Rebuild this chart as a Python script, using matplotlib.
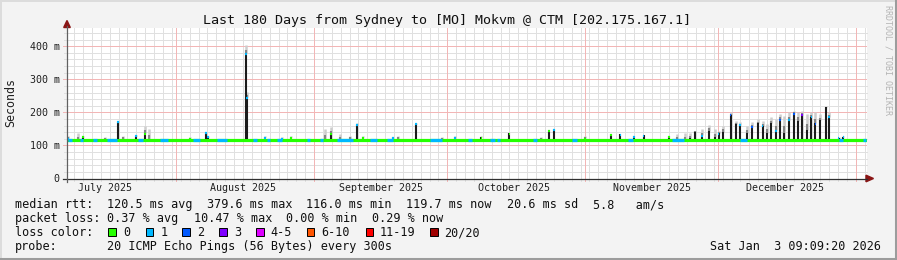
import datetime as dt
import numpy as np
import matplotlib
matplotlib.use("Agg")
import matplotlib.pyplot as plt
import matplotlib.dates as mdates
from matplotlib.lines import Line2D
from matplotlib.patches import Rectangle, Polygon
from matplotlib.transforms import blended_transform_factory

plt.rcParams['font.family'] = ['DejaVu Sans Mono']

W, H = 897, 260
START = dt.datetime(2025, 7, 7, 9, 9, 20)
END = dt.datetime(2026, 1, 3, 9, 9, 20)

TITLE = "Last 180 Days from Sydney to [MO] Mokvm @ CTM [202.175.167.1]"

# median rtt baseline (ms)
median_base = 117.5

# spikes: day offset from START, dense smoke top (ms), light smoke top (ms),
# loss bucket of the median at the top (-1 = not visible)
spike_day = [0.2, 2.5, 3.6, 8.6, 11.5, 12.6, 15.5, 17.6, 18.5, 27.7,
             31.3, 31.8, 40.3, 40.6, 44.6, 48.4, 50.5, 58.1, 59.5, 61.5,
             63.8, 65.3, 66.7, 73.4, 74.6, 78.6, 84.5, 87.4, 93.3, 99.6,
             106.8, 108.6, 109.7, 116.7, 122.5, 124.6, 127.7, 129.8, 135.6, 137.4,
             139.2, 140.3, 141.5, 143.0, 144.6, 146.0, 146.7, 147.7, 149.4, 150.6,
             151.6, 153.1, 154.2, 155.6, 156.6, 157.6, 158.6, 159.7, 160.6, 161.5,
             162.5, 163.6, 164.5, 165.5, 166.6, 167.6, 168.5, 169.5, 170.8, 171.5,
             173.7, 174.8]
spike_dark = [122, 120, 126, 120, 172, 120, 130, 137, 120, 122,
              140, 126, 378, 245, 125, 122, 125, 120, 137, 120,
              120, 162, 125, 124, 120, 165, 120, 125, 124, 137,
              120, 146, 149, 122, 134, 134, 128, 131, 127, 120,
              120, 122, 141, 131, 144, 126, 137, 141, 192, 165,
              162, 137, 156, 167, 159, 137, 167, 146, 179, 137,
              177, 197, 175, 192, 146, 187, 167, 177, 215, 187,
              123, 126]
spike_light = [128, 137, 130, 125, 175, 130, 132, 158, 150, 126,
               142, 128, 403, 262, 127, 125, 127, 150, 155, 135,
               130, 168, 128, 126, 130, 168, 124, 127, 130, 139,
               126, 148, 151, 130, 136, 136, 130, 133, 129, 134,
               137, 138, 145, 150, 162, 150, 145, 160, 202, 175,
               170, 160, 170, 180, 175, 165, 185, 180, 195, 190,
               200, 205, 200, 205, 195, 200, 200, 195, 218, 200,
               125, 127]
spike_loss = [1, -1, 0, -1, 1, -1, 1, 0, -1, 0,
              1, 1, 1, 1, 1, 1, 0, -1, 0, -1,
              -1, 1, 0, 1, -1, 1, -1, 1, 0, 0,
              -1, 0, 1, 0, 0, 1, 1, 1, 0, -1,
              -1, -1, -1, 1, -1, -1, 1, -1, 2, -1,
              1, -1, 2, -1, 1, -1, -1, 1, 2, -1,
              1, 2, -1, 3, -1, 1, 2, -1, -1, 1,
              1, 1]

# stretches of the median line with 1/20 loss (day offsets)
loss1_from = [0.2, 2.9, 5.9, 9.0, 16.0, 21.0, 28.4, 33.8, 41.9, 45.1, 47.3, 54.1, 57.0,
              60.8, 68.3, 72.1, 81.8, 90.3, 95.3, 96.9, 105.0, 113.8, 126.2, 136.3,
              151.6, 173.7, 179.1]
loss1_to = [1.1, 3.6, 6.8, 11.3, 17.1, 22.8, 30.0, 36.0, 42.8, 45.7, 48.4, 54.7, 57.7,
            64.4, 69.8, 73.4, 84.5, 91.2, 96.4, 97.5, 105.9, 114.9, 127.5, 138.8,
            153.2, 174.8, 179.8]

loss_labels = ["0", "1", "2", "3", "4-5", "6-10", "11-19", "20/20"]
loss_colors = ["#26ff00", "#00b8ff", "#0059ff", "#7e00ff", "#dd00ff", "#ff5500", "#ff0000", "#a00000"]

month_labels = ["July 2025", "August 2025", "September 2025", "October 2025",
                "November 2025", "December 2025"]
month_mid = [dt.datetime(2025, m, 16) for m in range(7, 13)]
month_start = [dt.datetime(2025, m, 1) for m in range(8, 13)] + [dt.datetime(2026, 1, 1)]

y_ticks = [0, 100, 200, 300, 400]
y_ticklabels = ["0", "100 m", "200 m", "300 m", "400 m"]

stats_rtt = ["median rtt:", "120.5 ms avg", "379.6 ms max", "116.0 ms min",
             "119.7 ms now", "20.6 ms sd", "5.8   am/s"]
stats_loss = ["packet loss:", "0.37 % avg", "10.47 % max", "0.00 % min", "0.29 % now"]
probe_text = "20 ICMP Echo Pings (56 Bytes) every 300s"
stamp = "Sat Jan  3 09:09:20 2026"


def fx(x):
    return x / W


def fy(y):
    return 1 - y / H


fig = plt.figure(figsize=(W / 100, H / 100), dpi=100, facecolor='#f3f3f3')
ax = fig.add_axes([fx(67), fy(178.5), (866.5 - 67) / W, (178.5 - 28) / H])
ax.set_facecolor('white')

t0 = mdates.date2num(START)
t1 = mdates.date2num(END)
ax.set_xlim(t0, t1)
ax.set_ylim(0, 455)
for s in ax.spines.values():
    s.set_visible(False)

# grid (crisp 1px dotted lines like rrdtool)
GRID = '#e0e0e0'
MGRID = '#f2b6b6'
dash = (0, (2, 1))
for v in np.arange(20, 455, 20):
    if v % 100 == 0:
        continue
    ax.hlines(v, t0 - 0.7, t1, color=GRID, lw=0.72, linestyles=dash, clip_on=False,
              zorder=0, antialiased=False)
for v in y_ticks[1:]:
    ax.hlines(v, t0 - 0.9, t1, color=MGRID, lw=0.72, linestyles=dash, clip_on=False,
              zorder=0.5, antialiased=False)
minor_x = np.arange(np.ceil(t0 / 2) * 2, t1, 2)
for x in minor_x:
    ax.vlines(x, -8, 455, color=GRID, lw=0.72, linestyles=dash, clip_on=False, zorder=0,
              antialiased=False)
for m in month_start:
    ax.vlines(mdates.date2num(m), -8, 455, color=MGRID, lw=0.72, linestyles=dash,
              clip_on=False, zorder=0.5, antialiased=False)

# smoke above the spikes
for d, dk, lt in zip(spike_day, spike_dark, spike_light):
    x = t0 + d
    mid = dk + (lt - dk) * 0.4
    ax.vlines(x, dk, lt, color='#cdcdcd', lw=1.8, zorder=2)
    ax.vlines(x, dk, mid, color='#858585', lw=1.5, zorder=2.1)

# median line
ax.hlines(median_base, t0, t1, color=loss_colors[0], lw=2.3, zorder=3)
for a, b in zip(loss1_from, loss1_to):
    ax.hlines(median_base, t0 + a, t0 + b, color=loss_colors[1], lw=2.3, zorder=3.1)

for d, dk, ls in zip(spike_day, spike_dark, spike_loss):
    x = t0 + d
    ax.vlines(x, median_base + 1, dk, color='#1c1c1c', lw=1.5, zorder=4)
    if ls >= 0:
        ax.hlines(dk - 1.5, x - 0.2, x + 0.2, color=loss_colors[ls], lw=1.6, zorder=4.5)

# axes ticks / labels
ax.set_yticks(y_ticks)
ax.set_yticklabels(y_ticklabels, fontsize=7.2, color='#202020')
ax.tick_params(axis='y', length=0, pad=5.3)
ax.set_xticks([])
tr = blended_transform_factory(ax.transData, fig.transFigure)
for d, lab in zip(month_mid, month_labels):
    ax.text(mdates.date2num(d), fy(191), lab, transform=tr, ha='center', va='baseline',
            fontsize=7.2, color='#202020')

fig.text(fx(11), fy(102.5), "Seconds", rotation=90, ha='center', va='center',
         fontsize=8.4, color='#202020')

# axis lines with arrows
AX = '#303030'
fig.add_artist(Line2D([fx(63), fx(867)], [fy(178.5), fy(178.5)], color=AX, lw=0.9))
fig.add_artist(Line2D([fx(67), fx(67)], [fy(181.5), fy(26)], color='#606060', lw=0.9))
fig.add_artist(Polygon([(fx(866), fy(175.2)), (fx(873.5), fy(178.5)), (fx(866), fy(181.8))],
                       closed=True, color='#8a1515', transform=fig.transFigure))
fig.add_artist(Polygon([(fx(63.7), fy(27.5)), (fx(67), fy(20.5)), (fx(70.3), fy(27.5))],
                       closed=True, color='#8a1515', transform=fig.transFigure))

# title
fig.text(fx(446.6), fy(24.3), TITLE, ha='center', va='baseline', fontsize=9.6, color='#101010')

# watermark
fig.text(fx(888), fy(60), "RRDTOOL / TOBI OETIKER", rotation=270, ha='center', va='center',
         fontsize=6.0, color='#b4b4b4')

# legend rows
LEG = 8.5
rtt_x = [15, 106.5, 206.5, 306.5, 406, 506.5, 592.5]
for x, s in zip(rtt_x, stats_rtt):
    fig.text(fx(x), fy(208.3), s, ha='left', va='baseline', fontsize=LEG, color='#101010')
loss_x = [15, 106.5, 193.5, 286, 372]
for x, s in zip(loss_x, stats_loss):
    fig.text(fx(x), fy(222.3), s, ha='left', va='baseline', fontsize=LEG, color='#101010')
fig.text(fx(15), fy(236.3), "loss color:", ha='left', va='baseline', fontsize=LEG, color='#101010')
sq_x = [108.3, 145.7, 182.3, 219, 256, 306.7, 365.7, 430]
lab_x = [123.3, 160.3, 197.3, 234.3, 270, 321, 379.3, 444.5]
for sx, lx, c, lab in zip(sq_x, lab_x, loss_colors, loss_labels):
    fig.add_artist(Rectangle((fx(sx), fy(236)), 7.5 / W, 7.8 / H, facecolor=c,
                             edgecolor='black', lw=0.7, transform=fig.transFigure))
    fig.text(fx(lx), fy(236.3), lab, ha='left', va='baseline', fontsize=LEG, color='#101010')
fig.text(fx(15), fy(250), "probe:", ha='left', va='baseline', fontsize=LEG, color='#101010')
fig.text(fx(106.5), fy(250), probe_text, ha='left', va='baseline', fontsize=LEG, color='#101010')
fig.text(fx(881), fy(250), stamp, ha='right', va='baseline', fontsize=LEG, color='#101010')

# 3d frame
fig.add_artist(Line2D([0, 1], [fy(0.8), fy(0.8)], color='#dcdcdc', lw=1.4))
fig.add_artist(Line2D([fx(0.8), fx(0.8)], [0, 1], color='#dcdcdc', lw=1.4))
fig.add_artist(Line2D([0, 1], [fy(258.5), fy(258.5)], color='#9c9c9c', lw=2.2))
fig.add_artist(Line2D([fx(895.5), fx(895.5)], [0, 1], color='#9c9c9c', lw=2.2))

fig.savefig("out.png", dpi=100, facecolor=fig.get_facecolor())
